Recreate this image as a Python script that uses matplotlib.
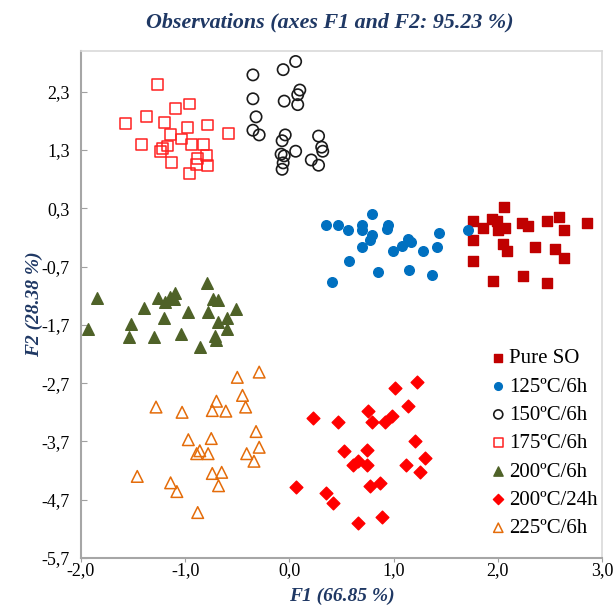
import matplotlib
matplotlib.use("Agg")
import matplotlib.pyplot as plt

# --- data ---
pure_x = [2.06, 1.76, 1.94, 1.99, 1.86, 2.00, 2.07, 2.23, 2.29, 2.47, 2.59, 2.64,
          2.86, 1.76, 2.05, 2.09, 2.36, 2.55, 2.64, 1.76, 1.95, 2.24, 2.47]
pure_y = [0.33, 0.08, 0.11, 0.08, -0.04, -0.08, -0.04, 0.04, -0.01, 0.09, 0.16, -0.08,
          0.04, -0.25, -0.32, -0.44, -0.37, -0.39, -0.56, -0.60, -0.94, -0.86, -0.98]

c125_x = [0.35, 0.47, 0.56, 0.79, 0.70, 0.70, 0.79, 0.77, 0.95, 0.94, 0.70, 0.57,
          0.41, 0.85, 0.99, 1.08, 1.14, 1.17, 1.28, 1.15, 1.37, 1.42, 1.44, 1.71]
c125_y = [0.01, 0.01, -0.08, 0.21, 0.02, -0.08, -0.15, -0.25, 0.01, -0.06, -0.36, -0.61,
          -0.96, -0.79, -0.44, -0.34, -0.22, -0.27, -0.44, -0.75, -0.84, -0.37, -0.13, -0.08]

c150_x = [-0.35, -0.06, 0.06, 0.10, 0.08, -0.05, 0.08, -0.35, -0.32, -0.35, -0.29, -0.04,
          -0.07, 0.28, 0.06, -0.08, -0.05, -0.06, -0.07, 0.21, 0.28, 0.31, 0.32]
c150_y = [2.59, 2.68, 2.82, 2.33, 2.25, 2.14, 2.08, 2.18, 1.87, 1.64, 1.56, 1.56,
          1.46, 1.54, 1.28, 1.23, 1.20, 1.08, 0.97, 1.13, 1.04, 1.35, 1.28]

c175_x = [-1.27, -1.09, -0.96, -1.37, -1.57, -1.20, -0.98, -0.79, -0.58, -1.14, -1.04, -1.42,
          -0.94, -0.82, -1.17, -1.22, -1.24, -0.80, -0.88, -0.79, -1.13, -0.89, -0.96]
c175_y = [2.42, 2.01, 2.09, 1.87, 1.75, 1.78, 1.68, 1.73, 1.59, 1.56, 1.49, 1.40,
          1.40, 1.39, 1.37, 1.32, 1.28, 1.21, 1.16, 1.04, 1.08, 1.06, 0.90]

c200_x = [-1.85, -1.93, -1.40, -1.52, -1.54, -1.30, -1.26, -1.19, -1.15, -1.10, -1.11, -1.20,
          -1.04, -0.97, -0.79, -0.73, -0.69, -0.78, -0.51, -0.69, -0.60, -0.60, -0.71, -0.70, -0.86]
c200_y = [-1.23, -1.77, -1.41, -1.68, -1.91, -1.91, -1.23, -1.30, -1.22, -1.15, -1.25, -1.58,
          -1.86, -1.48, -0.98, -1.25, -1.27, -1.48, -1.42, -1.65, -1.58, -1.77, -1.89, -1.96, -2.08]

c200_24_x = [1.22, 1.01, 1.14, 0.75, 0.79, 0.98, 0.92, 0.23, 0.47, 1.21, 0.52, 0.74, 0.66,
             0.61, 0.74, 1.30, 1.12, 1.25, 0.77, 0.87, 0.06, 0.35, 0.42, 0.89, 0.66]
c200_24_y = [-2.68, -2.79, -3.10, -3.18, -3.36, -3.27, -3.37, -3.30, -3.37, -3.70, -3.86, -3.84, -4.04,
             -4.10, -4.10, -3.99, -4.11, -4.22, -4.46, -4.42, -4.48, -4.58, -4.75, -4.99, -5.10]

c225_x = [-0.29, -0.50, -0.45, -0.42, -0.70, -0.74, -0.61, -1.03, -1.28, -0.32, -0.75, -0.97, -0.86,
          -0.89, -0.78, -0.41, -0.29, -0.34, -0.74, -0.65, -0.68, -1.46, -1.14, -1.08, -0.88]
c225_y = [-2.51, -2.60, -2.91, -3.11, -3.01, -3.17, -3.18, -3.20, -3.11, -3.53, -3.65, -3.67, -3.86,
          -3.91, -3.91, -3.91, -3.80, -4.04, -4.25, -4.23, -4.46, -4.30, -4.41, -4.56, -4.92]

x_ticks = [-2.0, -1.0, 0.0, 1.0, 2.0, 3.0]
x_ticklabels = ["-2,0", "-1,0", "0,0", "1,0", "2,0", "3,0"]
y_ticks = [2.3, 1.3, 0.3, -0.7, -1.7, -2.7, -3.7, -4.7, -5.7]
y_ticklabels = ["2,3", "1,3", "0,3", "-0,7", "-1,7", "-2,7", "-3,7", "-4,7", "-5,7"]

navy = "#1F3864"
serif = "Liberation Serif"

fig = plt.figure(figsize=(6.16, 6.10), dpi=100)
ax = fig.add_axes([81 / 616, 1 - 558 / 610, (602 - 81) / 616, (558 - 51) / 610])

ax.scatter(pure_x, pure_y, marker="s", s=50, color="#C00000", label="Pure SO", zorder=3)
ax.scatter(c125_x, c125_y, marker="o", s=48, color="#0070C0", label="125ºC/6h", zorder=3)
ax.scatter(c150_x, c150_y, marker="o", s=66, facecolors="none", edgecolors="#1A1A1A",
           linewidths=1.2, label="150ºC/6h", zorder=3)
ax.scatter(c175_x, c175_y, marker="s", s=62, facecolors="none", edgecolors="#FF2020",
           linewidths=1.1, label="175ºC/6h", zorder=3)
ax.scatter(c200_x, c200_y, marker="^", s=70, color="#4F6228", label="200ºC/6h", zorder=3)
ax.scatter(c200_24_x, c200_24_y, marker="D", s=42, color="#FF0000", label="200ºC/24h", zorder=3)
ax.scatter(c225_x, c225_y, marker="^", s=70, facecolors="none", edgecolors="#E46C0A",
           linewidths=1.1, label="225ºC/6h", zorder=3)

ax.set_xlim(-2.0, 3.0)
ax.set_ylim(-5.7, 3.0)
ax.set_xticks(x_ticks)
ax.set_xticklabels(x_ticklabels, fontfamily=serif, fontsize=13)
ax.set_yticks(y_ticks)
ax.set_yticklabels(y_ticklabels, fontfamily=serif, fontsize=13)
ax.tick_params(axis="x", direction="out", length=3, color="#A0A0A0", pad=0)
ax.tick_params(axis="y", direction="in", length=4, color="#A0A0A0", pad=8)

for side in ["left", "bottom"]:
    ax.spines[side].set_color("#A6A6A6")
    ax.spines[side].set_linewidth(1.5)
for side in ["top", "right"]:
    ax.spines[side].set_color("#D9D9D9")
    ax.spines[side].set_linewidth(1.2)

ax.set_xlabel("F1 (66.85 %)", fontfamily=serif, fontsize=14, fontweight="bold",
              fontstyle="italic", color=navy, labelpad=6)
ax.set_ylabel("F2 (28.38 %)", fontfamily=serif, fontsize=14, fontweight="bold",
              fontstyle="italic", color=navy, labelpad=-1)
fig.text(330 / 616, 1 - 22 / 610, "Observations (axes F1 and F2: 95.23 %)",
         ha="center", va="center", fontfamily=serif, fontsize=15.8, fontweight="bold",
         fontstyle="italic", color=navy)

leg = ax.legend(loc="lower right", bbox_to_anchor=(1.029, 0.0), frameon=False,
                prop={"family": serif, "size": 15}, handlelength=1.0,
                handletextpad=0.0, labelspacing=0.42, borderaxespad=0.55,
                scatterpoints=1, markerscale=0.8)

fig.savefig("out.png", dpi=100, facecolor="white")
